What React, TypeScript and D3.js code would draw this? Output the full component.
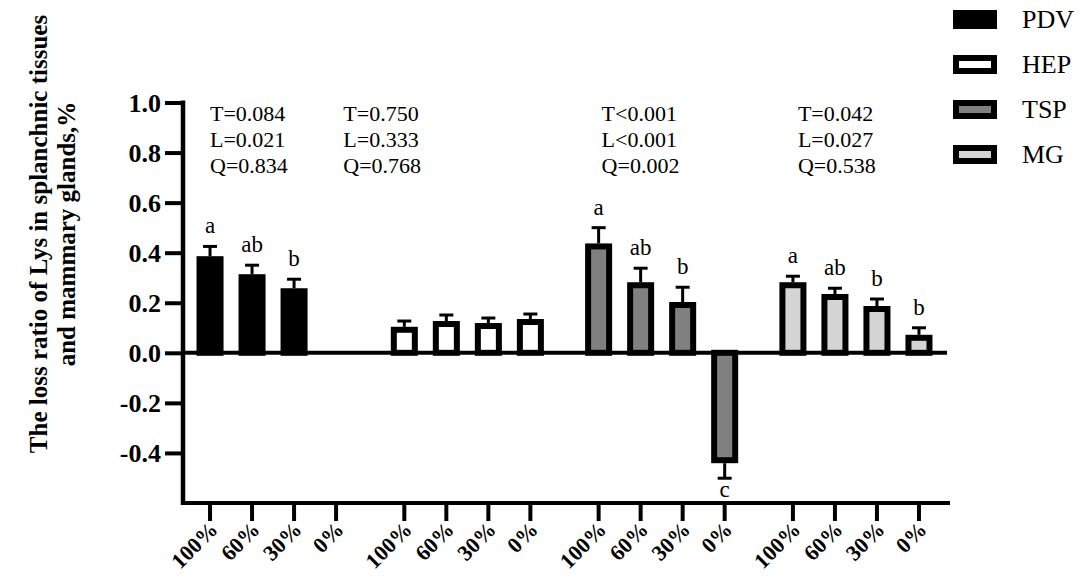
/**
 * Loss ratio of Lys across splanchnic tissues and mammary glands,
 * grouped bars (site × Lys supply level) with SE whiskers and letters.
 */
import * as d3 from 'd3';
import { useEffect, useRef } from 'react';

const W = 1084;
const H = 581;
const FONT = "'Liberation Serif', 'Times New Roman', serif";

const SITES = ['PDV', 'HEP', 'TSP', 'MG'];
const LEVELS = ['100%', '60%', '30%', '0%'];

const PDV_MEAN = [0.386, 0.314, 0.258, null];
const PDV_SE = [0.039, 0.036, 0.036, null];
const HEP_MEAN = [0.104, 0.127, 0.119, 0.135];
const HEP_SE = [0.023, 0.024, 0.02, 0.02];
const TSP_MEAN = [0.437, 0.282, 0.203, -0.441];
const TSP_SE = [0.063, 0.056, 0.059, 0.06];
const MG_MEAN = [0.282, 0.235, 0.187, 0.072];
const MG_SE = [0.024, 0.023, 0.028, 0.028];

const PDV_LETTERS = ['a', 'ab', 'b', ''];
const HEP_LETTERS = ['', '', '', ''];
const TSP_LETTERS = ['a', 'ab', 'b', 'c'];
const MG_LETTERS = ['a', 'ab', 'b', 'b'];

const STATS = [
  ['T=0.084', 'L=0.021', 'Q=0.834'],
  ['T=0.750', 'L=0.333', 'Q=0.768'],
  ['T<0.001', 'L<0.001', 'Q=0.002'],
  ['T=0.042', 'L=0.027', 'Q=0.538'],
];

const Y_TICKS = [-0.4, -0.2, 0, 0.2, 0.4, 0.6, 0.8, 1.0];

const FILLS: Record<string, string> = { PDV: '#000', HEP: '#fff', TSP: '#808080', MG: '#d4d4d4' };
// horizontal offset of each stats block from its group's band start
const STAT_DX = [21, -40, 24, 26];

interface Row { site: string; level: string; mean: number | null; se: number | null; letter: string }

const MEANS = [PDV_MEAN, HEP_MEAN, TSP_MEAN, MG_MEAN];
const SES = [PDV_SE, HEP_SE, TSP_SE, MG_SE];
const LETTERS = [PDV_LETTERS, HEP_LETTERS, TSP_LETTERS, MG_LETTERS];

const rows: Row[] = SITES.flatMap((site, i) =>
  LEVELS.map((level, j) => ({ site, level, mean: MEANS[i][j], se: SES[i][j], letter: LETTERS[i][j] }))
);

export default function App() {
  const ref = useRef<SVGSVGElement>(null);

  useEffect(() => {
    if (!ref.current) return;
    const svg = d3.select(ref.current);
    svg.selectAll('*').remove();

    const AX_L = 183;
    const y = d3.scaleLinear().domain([-0.6, 1.0]).range([503, 102.5]);
    const x0 = d3.scaleBand().domain(SITES).range([AX_L, 946]).paddingInner(0.135).paddingOuter(0.031);
    const x1 = d3.scaleBand().domain(LEVELS).range([0, x0.bandwidth()]).paddingInner(0.357).paddingOuter(0.1785);
    const bw = x1.bandwidth();
    const cx = (d: Row) => (x0(d.site) ?? 0) + (x1(d.level) ?? 0) + bw / 2;
    const y0 = y(0);

    // bars
    const bars = rows.filter(d => d.mean !== null);
    svg.append('g').selectAll('rect')
      .data(bars)
      .join('rect')
      .attr('x', d => cx(d) - bw / 2 + 3)
      .attr('width', bw - 6)
      .attr('y', d => Math.min(y(d.mean!), y0) + (d.mean! >= 0 ? 3 : 0))
      .attr('height', d => Math.abs(y(d.mean!) - y0) - 3)
      .attr('fill', d => FILLS[d.site])
      .attr('stroke', '#000')
      .attr('stroke-width', 6);

    // error bars
    const eg = svg.append('g').attr('stroke', '#000').attr('stroke-width', 3);
    bars.forEach(d => {
      const m = d.mean!;
      const tip = m >= 0 ? m + d.se! : m - d.se!;
      eg.append('line').attr('x1', cx(d)).attr('x2', cx(d)).attr('y1', y(m)).attr('y2', y(tip));
      eg.append('line').attr('x1', cx(d) - 7).attr('x2', cx(d) + 7).attr('y1', y(tip)).attr('y2', y(tip));
    });

    // significance letters
    svg.append('g').selectAll('text')
      .data(bars.filter(d => d.letter))
      .join('text')
      .attr('x', d => cx(d))
      .attr('y', d => (d.mean! >= 0 ? y(d.mean! + d.se!) - 13 : y(d.mean! - d.se!) + 19))
      .attr('text-anchor', 'middle')
      .attr('font-family', FONT)
      .attr('font-size', 23)
      .text(d => d.letter);

    // zero line
    svg.append('line')
      .attr('x1', AX_L).attr('x2', 947).attr('y1', y0).attr('y2', y0)
      .attr('stroke', '#000').attr('stroke-width', 4);

    // y axis
    const yAxis = svg.append('g')
      .attr('transform', `translate(${AX_L},0)`)
      .call(d3.axisLeft(y).tickValues(Y_TICKS)
        .tickFormat(v => d3.format('.1f')(v as number).replace('\u2212', '-'))
        .tickSize(18).tickSizeOuter(0).tickPadding(4));
    yAxis.select('.domain').remove();
    yAxis.selectAll('.tick line').attr('stroke', '#000').attr('stroke-width', 4);
    yAxis.selectAll('.tick text')
      .attr('font-family', FONT).attr('font-weight', 'bold').attr('font-size', 26).attr('fill', '#000')
      .attr('dy', '0.34em');
    svg.append('line')
      .attr('x1', AX_L).attr('x2', AX_L).attr('y1', y(1.0) - 2).attr('y2', y(-0.6) + 2)
      .attr('stroke', '#000').attr('stroke-width', 4.5);

    // bottom axis with a tick under each bar
    const yb = y(-0.6);
    svg.append('line')
      .attr('x1', AX_L).attr('x2', 950).attr('y1', yb).attr('y2', yb)
      .attr('stroke', '#000').attr('stroke-width', 4);
    const xt = svg.append('g');
    rows.forEach(d => {
      xt.append('line').attr('x1', cx(d)).attr('x2', cx(d)).attr('y1', yb).attr('y2', yb + 18)
        .attr('stroke', '#000').attr('stroke-width', 4);
      xt.append('text')
        .attr('transform', `translate(${cx(d) + 9},${yb + 28}) rotate(-45)`)
        .attr('text-anchor', 'end')
        .attr('font-family', FONT).attr('font-weight', 'bold').attr('font-size', 22)
        .text(d.level);
    });

    // stats blocks
    STATS.forEach((lines, i) => {
      const t = svg.append('text')
        .attr('font-family', FONT).attr('font-size', 22);
      lines.forEach((s, k) => {
        t.append('tspan').attr('x', (x0(SITES[i]) ?? 0) + STAT_DX[i]).attr('y', 121 + k * 26).text(s);
      });
    });

    // y title
    const title = svg.append('text')
      .attr('transform', 'translate(0,234) rotate(-90)')
      .attr('text-anchor', 'middle')
      .attr('font-family', FONT).attr('font-weight', 'bold').attr('font-size', 25);
    title.append('tspan').attr('x', 0).attr('y', 47).text('The loss ratio of Lys in splanchnic tissues');
    title.append('tspan').attr('x', 0).attr('y', 75).text('and mammary glands,%');

    // legend
    const lg = svg.append('g').attr('transform', 'translate(953,10)');
    SITES.forEach((s, i) => {
      lg.append('rect')
        .attr('x', 3).attr('y', i * 45 + 3).attr('width', 38).attr('height', 13)
        .attr('fill', FILLS[s]).attr('stroke', '#000').attr('stroke-width', 6);
      lg.append('text')
        .attr('x', 69).attr('y', i * 45 + 18)
        .attr('font-family', FONT).attr('font-size', 26)
        .text(s);
    });
  }, []);

  return (
    <svg
      ref={ref}
      width={W}
      height={H}
      style={{ position: 'absolute', left: 0, top: 0, background: '#fff' }}
    />
  );
}
